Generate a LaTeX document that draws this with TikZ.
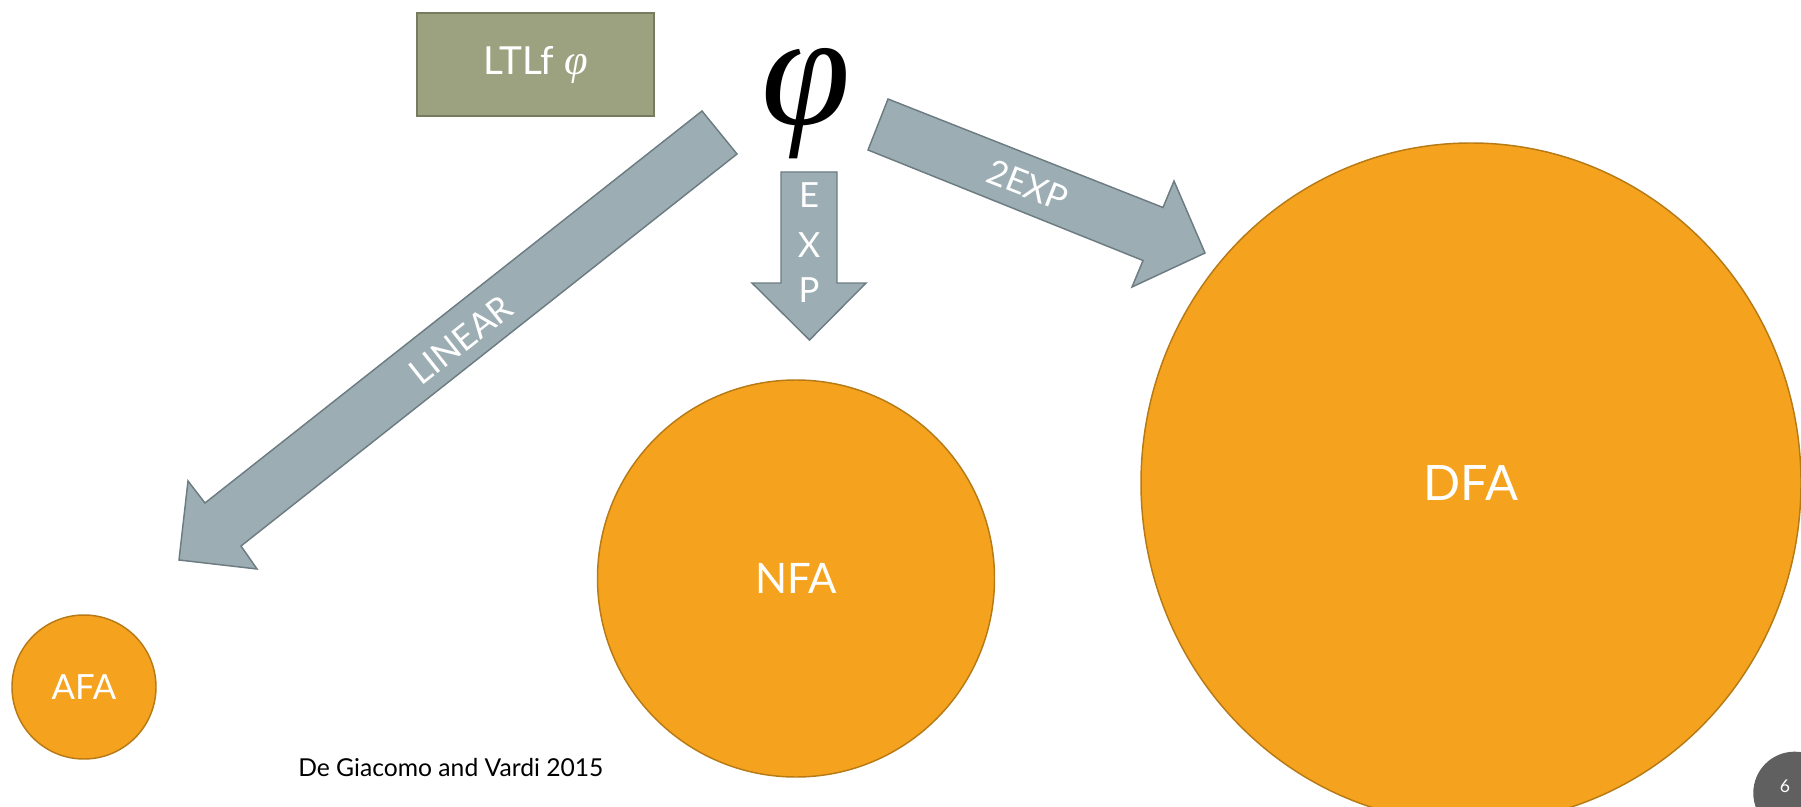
\documentclass[tikz,border=0pt]{standalone}
\usepackage{graphicx}
\usepackage{fontspec}
\setmainfont{Lato}
\newfontfamily\phifont{Liberation Serif}
\usetikzlibrary{shapes.geometric}
\definecolor{boxfill}{RGB}{156,162,128}
\definecolor{boxline}{RGB}{118,124,96}
\definecolor{arrfill}{RGB}{156,174,179}
\definecolor{arrline}{RGB}{108,124,130}
\definecolor{orfill}{RGB}{245,163,30}
\definecolor{orline}{RGB}{183,122,20}
\definecolor{pgnum}{RGB}{96,96,96}
\begin{document}
\begin{tikzpicture}[x=0.75pt,y=-0.75pt,
  blockarrow/.style={fill=arrfill,draw=arrline,line width=1.1pt,line join=miter},
  automaton/.style={fill=orfill,draw=orline,line width=1.1pt,text=white,inner sep=0pt},
  arrlabel/.style={text=white,font=\fontsize{26}{30}\selectfont,inner sep=0pt},
]
\useasboundingbox (0,0) rectangle (1801,806);
\clip (0,0) rectangle (1801,806);

% automata
\node[automaton, circle, minimum size=108pt, font=\fontsize{26}{30}\selectfont] (afa) at (84,687) {AFA};
\node[automaton, circle, minimum size=297.75pt, font=\fontsize{31.5}{36}\selectfont] (nfa) at (796,578.5) {NFA};
\node[automaton, ellipse, minimum width=495pt, minimum height=510pt, font=\fontsize{36.6}{42}\selectfont] (dfa) at (1471,483) {DFA};

% formula
\node[fill=boxfill, draw=boxline, line width=1.1pt, minimum width=177.75pt, minimum height=77.25pt, text=white, font=\fontsize{29}{34}\selectfont] (ltlf) at (535.5,64.5) {LTLf {\phifont\itshape\fontsize{32}{34}\selectfont φ}};
\node[inner sep=0pt, font=\phifont\itshape\fontsize{121}{124}\selectfont] (phi) at (806,104) {φ};

% LINEAR arrow
\coordinate (l1) at (702,111);
\coordinate (l2) at (737,154);
\coordinate (l3) at (241,546);
\coordinate (l4) at (257,569);
\coordinate (l5) at (179,560);
\coordinate (l6) at (188,481);
\coordinate (l7) at (205,503);
\draw[blockarrow] (l1) -- (l2) -- (l3) -- (l4) -- (l5) -- (l6) -- (l7) -- cycle;
\node[arrlabel, rotate=38.3] (linear) at (461,340) {LINEAR};

% EXP arrow
\coordinate (e1) at (781,172);
\coordinate (e2) at (837,172);
\coordinate (e3) at (837,283);
\coordinate (e4) at (866,283);
\coordinate (e5) at (809.5,340);
\coordinate (e6) at (752,283);
\coordinate (e7) at (781,283);
\draw[blockarrow] (e1) -- (e2) -- (e3) -- (e4) -- (e5) -- (e6) -- (e7) -- cycle;
\node[arrlabel, anchor=base] (expE) at (809,207.5) {E};
\node[arrlabel, anchor=base] (expX) at (809,257) {X};
\node[arrlabel, anchor=base] (expP) at (809,302) {P};

% 2EXP arrow
\coordinate (d1) at (888,99);
\coordinate (d2) at (1163,207.5);
\coordinate (d3) at (1174,181);
\coordinate (d4) at (1205,253);
\coordinate (d5) at (1132,287);
\coordinate (d6) at (1143,260.5);
\coordinate (d7) at (868,150);
\draw[blockarrow] (d1) -- (d2) -- (d3) -- (d4) -- (d5) -- (d6) -- (d7) -- cycle;
\node[arrlabel, rotate=-21.5] (twoexp) at (1028,185) {2EXP};

% citation
\node[anchor=base west, inner sep=0pt, font=\fontsize{18.5}{22}\selectfont] (cite) at (298,776.7) {De Giacomo and Vardi 2015};

% page number
\node[circle, fill=pgnum, minimum size=62pt, inner sep=0pt] (pgc) at (1794.6,793) {};
\node[text=white, inner sep=0pt, font=\fontsize{13.2}{15}\selectfont] (pg) at (1785,786.7) {6};
\end{tikzpicture}
\end{document}
